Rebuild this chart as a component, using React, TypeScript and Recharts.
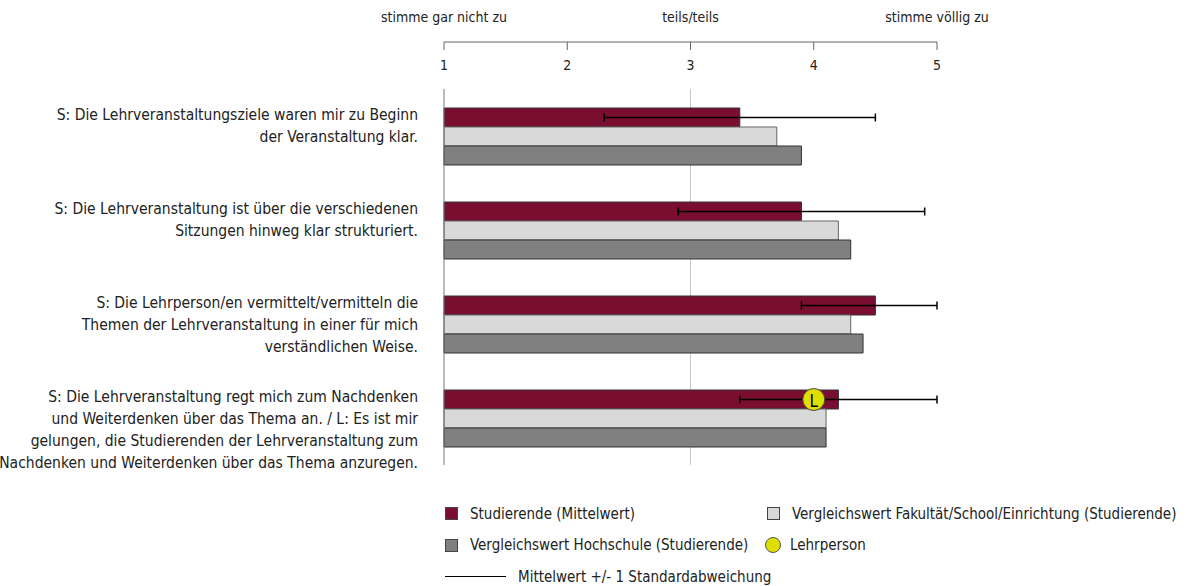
import React from "react";
import {
  ComposedChart,
  Bar,
  XAxis,
  YAxis,
  CartesianGrid,
  ErrorBar,
  LabelList,
  Legend,
} from "recharts";

// Items (S = Studierende, L = Lehrperson), one line per entry
const itemLines = [
  ["S: Die Lehrveranstaltungsziele waren mir zu Beginn", "der Veranstaltung klar."],
  ["S: Die Lehrveranstaltung ist über die verschiedenen", "Sitzungen hinweg klar strukturiert."],
  [
    "S: Die Lehrperson/en vermittelt/vermitteln die",
    "Themen der Lehrveranstaltung in einer für mich",
    "verständlichen Weise.",
  ],
  [
    "S: Die Lehrveranstaltung regt mich zum Nachdenken",
    "und Weiterdenken über das Thema an. / L: Es ist mir",
    "gelungen, die Studierenden der Lehrveranstaltung zum",
    "Nachdenken und Weiterdenken über das Thema anzuregen.",
  ],
];

const studierende = [3.4, 3.9, 4.5, 4.2];
const fakultaet = [3.7, 4.2, 4.3, 4.1];
const hochschule = [3.9, 4.3, 4.4, 4.1];
const sdLower = [2.3, 2.9, 3.9, 3.4];
const sdUpper = [4.5, 4.9, 5.0, 5.0];
const lehrperson: (number | null)[] = [null, null, null, 4.0];

const xTicks = [1, 2, 3, 4, 5];
const midTick = [3];
const anchorValues = [1, 3, 5];
const anchorLabels = ["stimme gar nicht zu", "teils/teils", "stimme völlig zu"];

const legendItems = [
  { label: "Studierende (Mittelwert)", kind: "square", color: "#7a0e30" },
  { label: "Vergleichswert Fakultät/School/Einrichtung (Studierende)", kind: "square", color: "#d9d9d9" },
  { label: "Vergleichswert Hochschule (Studierende)", kind: "square", color: "#808080" },
  { label: "Lehrperson", kind: "circle", color: "#dede00" },
  { label: "Mittelwert +/-  1 Standardabweichung", kind: "line", color: "#000" },
];

const RED = "#7a0e30";
const LIGHT = "#d9d9d9";
const DARK = "#808080";
const YELLOW = "#dede00";
const FONT = '"Liberation Sans Narrow", "DejaVu Sans Condensed", "Open Sans", sans-serif';
const TEXT = "#222";

const data = itemLines.map((lines, i) => ({
  name: lines.join(" "),
  lines,
  s: studierende[i],
  f: fakultaet[i],
  h: hochschule[i],
  err: [studierende[i] - sdLower[i], sdUpper[i] - studierende[i]],
  lp: lehrperson[i],
}));

function XTick(props: any) {
  const { x, y, payload } = props;
  const k = anchorValues.indexOf(payload.value);
  return (
    <g>
      <line x1={x} x2={x} y1={y - 47} y2={y - 39} stroke="#666" />
      <text x={x} y={y - 24} textAnchor="middle" dominantBaseline="central" fontSize={14} fill={TEXT} fontFamily={FONT}>
        {payload.value}
      </text>
      {k >= 0 && (
        <text x={x} y={y - 72} textAnchor="middle" dominantBaseline="central" fontSize={14} fill={TEXT} fontFamily={FONT}>
          {anchorLabels[k]}
        </text>
      )}
    </g>
  );
}

function AxisLine(props: any) {
  const vb = props.viewBox;
  const ly = vb.y + vb.height - 47;
  return <line x1={vb.x} x2={vb.x + vb.width} y1={ly} y2={ly} stroke="#666" />;
}

function YTick(props: any) {
  const { x, y, payload } = props;
  const row = data.find((d) => d.name === payload.value);
  const lines = row ? row.lines : [payload.value];
  return (
    <text x={x - 18} y={y - 21} textAnchor="end" fontSize={15.5} fill={TEXT} fontFamily={FONT}>
      {lines.map((l: string, i: number) => (
        <tspan key={i} x={x - 18} dy={i === 0 ? 0 : 22} dominantBaseline="central">
          {l}
        </tspan>
      ))}
    </text>
  );
}

function LehrpersonMark(props: any) {
  const { value, index } = props;
  if (value == null) return null;
  const vb = props.viewBox ?? props;
  const s = data[index].s;
  const cx = vb.x + (vb.width * (value - 1)) / (s - 1);
  const cy = vb.y + vb.height / 2;
  return (
    <g>
      <circle cx={cx} cy={cy} r={11} fill={YELLOW} stroke="#444" />
      <text x={cx} y={cy + 1} textAnchor="middle" dominantBaseline="central" fontSize={17} fill="#000" fontFamily={FONT}>
        L
      </text>
    </g>
  );
}

function LegendBox() {
  return (
    <div
      style={{
        display: "grid",
        gridTemplateColumns: "322px auto",
        rowGap: 0,
        fontFamily: FONT,
        fontSize: 15,
        color: TEXT,
        whiteSpace: "nowrap",
      }}
    >
      {legendItems.map((it, i) => (
        <div
          key={i}
          style={{
            display: "flex",
            alignItems: "center",
            height: 31.5,
            gridColumn: it.kind === "line" ? "1 / span 2" : undefined,
          }}
        >
          {it.kind === "square" && (
            <span
              style={{
                display: "inline-block",
                width: 11,
                height: 11,
                background: it.color,
                border: "1px solid #444",
                marginRight: 12,
              }}
            />
          )}
          {it.kind === "circle" && (
            <span
              style={{
                display: "inline-block",
                width: 14,
                height: 14,
                borderRadius: "50%",
                background: it.color,
                border: "1px solid #555",
                marginLeft: -2,
                marginRight: 9,
              }}
            />
          )}
          {it.kind === "line" && (
            <span
              style={{
                display: "inline-block",
                width: 61,
                height: 0,
                borderTop: "1.5px solid #000",
                marginRight: 12,
              }}
            />
          )}
          <span>{it.label}</span>
        </div>
      ))}
    </div>
  );
}

export default function App() {
  return (
    <div style={{ position: "absolute", left: 0, top: 0, background: "#fff" }}>
      <ComposedChart
        width={1187}
        height={586}
        data={data}
        layout="vertical"
        margin={{ top: 0, right: 250, bottom: 121, left: 0 }}
        barGap={0}
        barCategoryGap={19}
      >
        <XAxis
          type="number"
          orientation="top"
          domain={[1, 5]}
          ticks={xTicks}
          height={89}
          axisLine={false}
          tickLine={false}
          tickSize={0}
          tickMargin={0}
          tick={<XTick />}
          label={<AxisLine />}
        />
        <YAxis
          type="category"
          dataKey="name"
          width={444}
          axisLine={{ stroke: "#777" }}
          tickLine={false}
          tick={<YTick />}
        />
        <CartesianGrid horizontal={false} verticalValues={midTick} syncWithTicks stroke="#c8c8c8" />
        <Legend
          content={<LegendBox />}
          wrapperStyle={{ left: 445, top: 498, width: 742, height: 0, overflow: "visible" }}
        />
        <Bar dataKey="s" fill={RED} stroke="#333" isAnimationActive={false}>
          <ErrorBar dataKey="err" direction="x" width={4} stroke="#000" strokeWidth={1.5} />
          <LabelList dataKey="lp" content={<LehrpersonMark />} />
        </Bar>
        <Bar dataKey="f" fill={LIGHT} stroke="#666" isAnimationActive={false} />
        <Bar dataKey="h" fill={DARK} stroke="#333" isAnimationActive={false} />
      </ComposedChart>
    </div>
  );
}
